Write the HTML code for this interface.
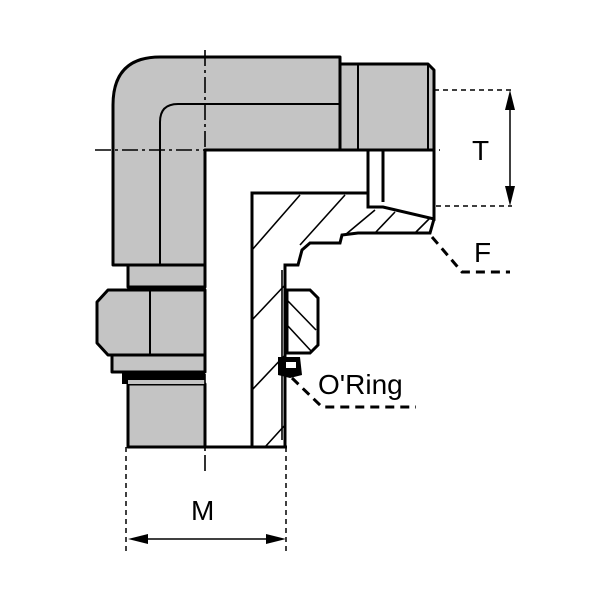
<!DOCTYPE html>
<html><head><style>body{margin:0;background:#fff}svg{display:block}</style></head><body>
<svg width="600" height="600" viewBox="0 0 600 600" xmlns="http://www.w3.org/2000/svg">
<g stroke="#000" stroke-width="3" fill="#c4c4c4" stroke-linejoin="round">
<path d="M113,265 L113,105 Q113,57 160,57 L340,57 L340,150 L205,150 L205,265 Z"/>
<path d="M340,64 L428,64 L434,70 L434,150 L340,150 Z"/>
<rect x="128" y="265" width="77" height="22"/>
<path d="M205,290 L108,290 L97,302 L97,343 L108,355 L205,355 Z"/>
<rect x="112" y="355" width="93" height="17"/>
<rect x="128" y="384" width="77" height="63"/>
</g>
<g stroke="#000" stroke-width="2" fill="none">
<path d="M340,104 L178,104 Q160,104 160,122 L160,265"/>
<line x1="358" y1="64" x2="358" y2="150"/>
<line x1="428" y1="64" x2="428" y2="150"/>
<line x1="150" y1="290" x2="150" y2="355"/>
</g>
<rect x="122" y="372" width="83" height="12" fill="#000"/>
<rect x="128" y="380" width="77" height="4" fill="#c4c4c4"/>
<g stroke="#000" stroke-width="3" fill="none" stroke-linejoin="miter">
<path d="M252,447 L252,193 L368,193 L368,150"/>
<path d="M368,193 L368,207 L383,207 L434,219 L434,150"/>
<path d="M434,219 L430,233 L358,233 L342,235 L340,243 L310,243 L302,250 L298,265 L285,265 L285,447"/>
<line x1="383" y1="150" x2="383" y2="202"/>
<line x1="128" y1="447" x2="287" y2="447"/>
<path d="M287,290 L310,290 L318,298 L318,345 L310,353 L287,353 Z" fill="#fff"/>
</g>
<g stroke="#000" stroke-width="1.6" fill="none">
<line x1="252" y1="250" x2="300" y2="195"/>
<line x1="300" y1="245" x2="345" y2="195"/>
<line x1="345" y1="235" x2="375" y2="210"/>
<line x1="375" y1="233" x2="395" y2="212"/>
<line x1="415" y1="233" x2="430" y2="218"/>
<line x1="252" y1="320" x2="285" y2="285"/>
<line x1="252" y1="390" x2="285" y2="355"/>
<line x1="265" y1="447" x2="285" y2="425"/>
<line x1="287" y1="300" x2="316" y2="330"/>
<line x1="287" y1="325" x2="312" y2="352"/>
<line x1="282" y1="270" x2="282" y2="440"/>
</g>
<path d="M278,357 L300,357 L302,375 L290,378 L278,375 Z" fill="#000"/>
<rect x="286" y="362" width="10" height="6" fill="#fff"/>
<g stroke="#000" stroke-width="1.6" fill="none" stroke-dasharray="16,4,3,4">
<line x1="205" y1="50" x2="205" y2="472"/>
<line x1="95" y1="150" x2="440" y2="150"/>
</g>
<g stroke="#000" stroke-width="1.5" fill="none" stroke-dasharray="5,4">
<line x1="434" y1="90" x2="512" y2="90"/>
<line x1="436" y1="206" x2="512" y2="206"/>
<line x1="126" y1="447" x2="126" y2="555"/>
<line x1="286" y1="447" x2="286" y2="555"/>
</g>
<g stroke="#000" stroke-width="3" fill="none" stroke-dasharray="9,6">
<path d="M432,237 L462,272 L510,272"/>
<path d="M292,378 L322,407 L416,407"/>
</g>
<g stroke="#000" stroke-width="1.5">
<line x1="510" y1="95" x2="510" y2="200"/>
<line x1="133" y1="539" x2="281" y2="539"/>
</g>
<g fill="#000">
<path d="M510,90 L505,110 L515,110 Z"/><path d="M510,206 L505,186 L515,186 Z"/>
<path d="M128,539 L148,534 L148,544 Z"/><path d="M286,539 L266,534 L266,544 Z"/>
</g>
<g font-family="Liberation Sans, sans-serif" font-size="28" fill="#000">
<text x="472" y="160">T</text>
<text x="474" y="262">F</text>
<text x="318" y="394">O'Ring</text>
<text x="191" y="520">M</text>
</g>
</svg>
</body></html>
